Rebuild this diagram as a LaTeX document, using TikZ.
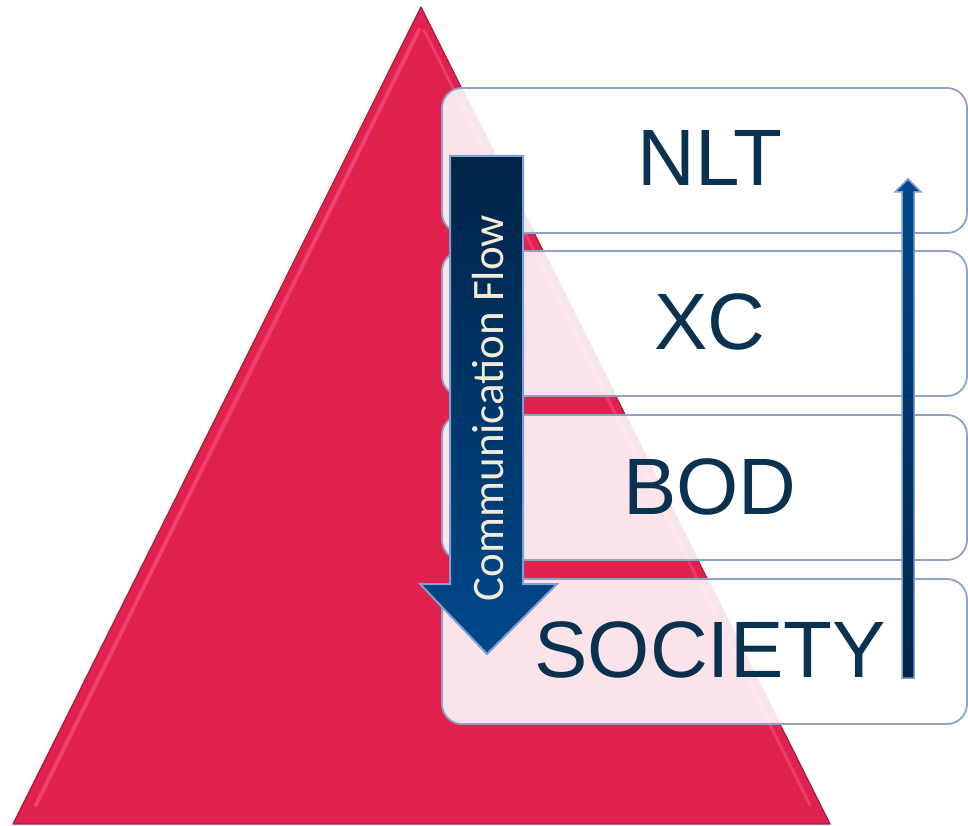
\documentclass[tikz,border=0pt]{standalone}
\usepackage{fontspec}
\setmainfont{Liberation Sans}
\newfontfamily\calib{Carlito}
\definecolor{tri}{HTML}{E1214E}
\definecolor{triedge}{HTML}{A81A3E}
\definecolor{trilight}{HTML}{F2487A}
\definecolor{boxline}{HTML}{8DA2C6}
\definecolor{navy}{HTML}{0B3150}
\definecolor{arrtop}{HTML}{002447}
\definecolor{arrbot}{HTML}{00488C}
\definecolor{arrline}{HTML}{7E9FD2}
\definecolor{cream}{HTML}{F1EBD8}
\tikzset{
  x=1pt, y=-1pt,
  levelbox/.style={draw=boxline, line width=1.8pt, fill=white, fill opacity=0.88, rounded corners=20pt},
  leveltext/.style={text=navy, font=\fontsize{80}{90}\selectfont, inner sep=0pt},
}
\begin{document}
\begin{tikzpicture}
\useasboundingbox (0,0) rectangle (968,826);
% triangle
\coordinate (apex) at (421,7);
\coordinate (bl) at (13,824);
\coordinate (br) at (830,824);
\fill[tri] (apex) -- (br) -- (bl) -- cycle;
\draw[trilight, line width=4pt, line cap=round, opacity=0.8] (419,30) -- (36,805);
\draw[trilight, line width=3pt, line cap=round, opacity=0.7] (424,30) -- (810,805);
\draw[triedge, line width=1.2pt, line join=round] (apex) -- (br) -- (bl) -- cycle;
% boxes
\draw[levelbox] (442,88) rectangle (967,233);
\draw[levelbox] (442,251) rectangle (967,396);
\draw[levelbox] (442,415) rectangle (967,560);
\draw[levelbox] (442,579) rectangle (967,724);
\node[leveltext] (nlt) at (710,158) {NLT};
\node[leveltext] (xc) at (710,322) {XC};
\node[leveltext] (bod) at (710,487) {BOD};
\node[leveltext] (soc) at (710,650) {SOCIETY};
% down arrow
\path[draw=arrline, line width=2pt, top color=arrtop, bottom color=arrbot, line join=miter]
  (450,156) -- (523,156) -- (523,584) -- (557,584) -- (487,654) -- (420,584) -- (450,584) -- cycle;
\node[rotate=90, text=cream, font=\calib\fontsize{45}{50}\selectfont, inner sep=0pt] (flow) at (488,408) {Communication Flow};
% up arrow
\path[draw=arrline, line width=1.5pt, top color=arrbot, bottom color=arrtop]
  (902,678) -- (902,192) -- (895,192) -- (908,179) -- (921,192) -- (914,192) -- (914,678) -- cycle;
\end{tikzpicture}
\end{document}
